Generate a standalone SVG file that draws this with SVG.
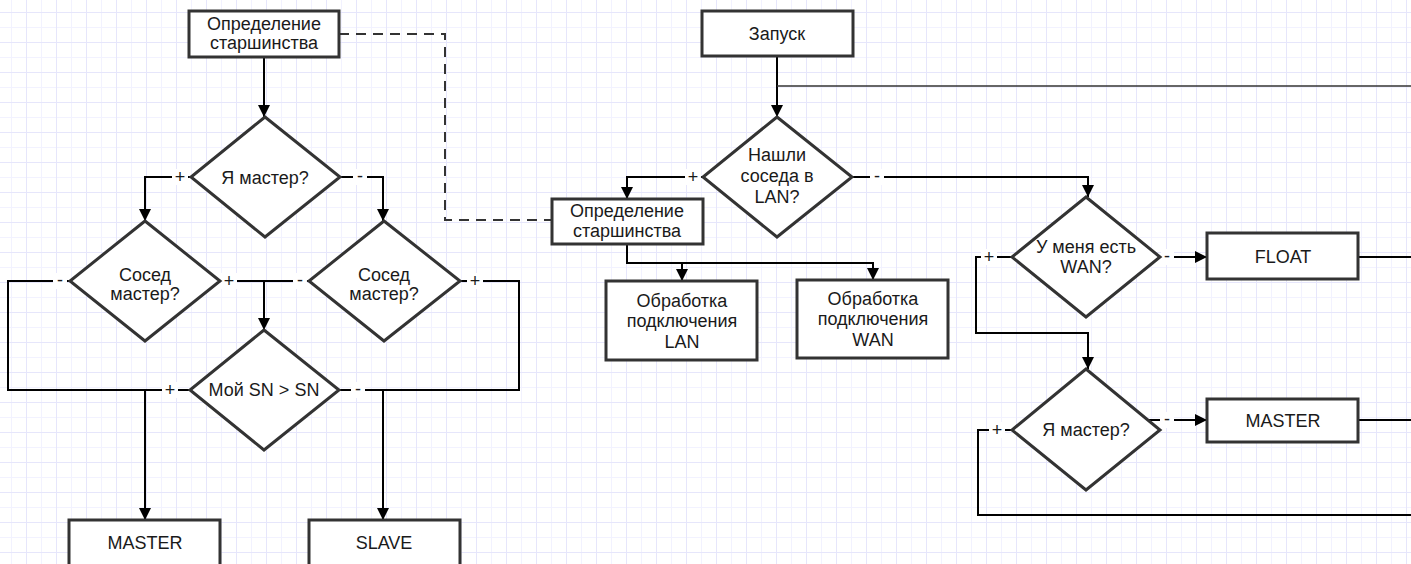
<svg xmlns="http://www.w3.org/2000/svg" width="1411" height="564" viewBox="0 0 1411 564">
<defs>
<pattern id="grid" x="26" y="12" width="30" height="30" patternUnits="userSpaceOnUse">
<rect x="0" y="0" width="30" height="30" fill="#ffffff"/>
<rect x="15" y="0" width="1" height="30" fill="#f2f2ff"/>
<rect x="0" y="15" width="30" height="1" fill="#f2f2ff"/>
<rect x="0" y="0" width="1" height="30" fill="#e6e6fb"/>
<rect x="0" y="0" width="30" height="1" fill="#e6e6fb"/>
</pattern>
<marker id="arr" viewBox="0 0 12 12" markerWidth="12" markerHeight="12" refX="12" refY="6" orient="auto" markerUnits="userSpaceOnUse">
<path d="M0,0 L12,6 L0,12 z" fill="#000"/>
</marker>
</defs>
<style>
.box{fill:#fff;stroke:#333;stroke-width:3}
.t{font-family:"Liberation Sans",Arial,sans-serif;font-size:18px;fill:#1a1a1a;text-anchor:middle}
.c{fill:none;stroke:#000;stroke-width:2}
.thin{fill:none;stroke:#333;stroke-width:1.6}
.dash{fill:none;stroke:#333;stroke-width:2;stroke-dasharray:10 7}
.lb{fill:#fff}
</style>
<rect x="0" y="0" width="1411" height="564" fill="url(#grid)"/>

<g id="connectors">
<path class="dash" d="M339,34 H445 V220 H552"/>
<path class="c" d="M264,57 V117" marker-end="url(#arr)"/>
<path class="c" d="M191,177 H145 V221" marker-end="url(#arr)"/>
<path class="c" d="M340,177 H383 V221" marker-end="url(#arr)"/>
<path class="c" d="M220,281 H309"/>
<path class="c" d="M264,281 V330" marker-end="url(#arr)"/>
<path class="c" d="M70,281 H8 V390 H190"/>
<path class="c" d="M145,390 V520" marker-end="url(#arr)"/>
<path class="c" d="M460,281 H519 V390 H339"/>
<path class="c" d="M383,390 V520" marker-end="url(#arr)"/>
<path class="c" d="M777,56 V117" marker-end="url(#arr)"/>
<path class="thin" d="M1411,86 H777"/>
<path class="c" d="M703,177 H627 V199" marker-end="url(#arr)"/>
<path class="c" d="M852,177 H1088 V197" marker-end="url(#arr)"/>
<path class="c" d="M627,244 V263 H873 V280" marker-end="url(#arr)"/>
<path class="c" d="M682,263 V281" marker-end="url(#arr)"/>
<path class="c" d="M1012,257 H976 V333 H1088 V369" marker-end="url(#arr)"/>
<path class="c" d="M1160,257 H1207" marker-end="url(#arr)"/>
<path class="c" d="M1358,257 H1411"/>
<path class="c" d="M1148,420 H1207" marker-end="url(#arr)"/>
<path class="c" d="M1358,420 H1411"/>
<path class="c" d="M1012,430 H978 V515 H1411"/>
<g id="edge-labels">
<rect class="lb" x="172" y="169" width="16" height="16"/><text class="t" x="180" y="183">+</text>
<rect class="lb" x="353" y="169" width="14" height="16"/><text class="t" x="360" y="182">-</text>
<rect class="lb" x="53" y="273" width="14" height="16"/><text class="t" x="60" y="286">-</text>
<rect class="lb" x="221" y="273" width="16" height="16"/><text class="t" x="229" y="287">+</text>
<rect class="lb" x="293" y="273" width="14" height="16"/><text class="t" x="300" y="286">-</text>
<rect class="lb" x="467" y="273" width="16" height="16"/><text class="t" x="475" y="287">+</text>
<rect class="lb" x="162" y="382" width="16" height="16"/><text class="t" x="170" y="396">+</text>
<rect class="lb" x="351" y="382" width="14" height="16"/><text class="t" x="358" y="395">-</text>
<rect class="lb" x="685" y="169" width="16" height="16"/><text class="t" x="693" y="183">+</text>
<rect class="lb" x="870" y="169" width="14" height="16"/><text class="t" x="877" y="182">-</text>
<rect class="lb" x="981" y="249" width="16" height="16"/><text class="t" x="989" y="263">+</text>
<rect class="lb" x="1161" y="249" width="13" height="16"/><text class="t" x="1167" y="262">-</text>
<rect class="lb" x="1160" y="412" width="14" height="16"/><text class="t" x="1167" y="425">-</text>
<rect class="lb" x="989" y="422" width="16" height="16"/><text class="t" x="997" y="436">+</text>
</g>
</g>

<g id="n-seniority-1">
<rect class="box" x="189" y="11" width="150" height="46"/>
<text class="t" x="264" y="30">Определение</text>
<text class="t" x="264" y="49">старшинства</text>
</g>
<g id="n-iammaster-1">
<polygon class="box" points="265,117 340,177 265,237 191,177"/>
<text class="t" x="265" y="184">Я мастер?</text>
</g>
<g id="n-neighbor-left">
<polygon class="box" points="145,221 220,281 145,341 70,281"/>
<text class="t" x="145" y="281">Сосед</text>
<text class="t" x="145" y="300">мастер?</text>
</g>
<g id="n-neighbor-right">
<polygon class="box" points="384,221 460,281 384,341 309,281"/>
<text class="t" x="384" y="281">Сосед</text>
<text class="t" x="384" y="300">мастер?</text>
</g>
<g id="n-sn">
<polygon class="box" points="264,330 339,390 264,450 190,390"/>
<text class="t" x="264" y="396">Мой SN &gt; SN</text>
</g>
<g id="n-master-1">
<rect class="box" x="69" y="520" width="151" height="60"/>
<text class="t" x="145" y="549">MASTER</text>
</g>
<g id="n-slave">
<rect class="box" x="309" y="520" width="151" height="60"/>
<text class="t" x="384" y="549">SLAVE</text>
</g>
<g id="n-start">
<rect class="box" x="702" y="11" width="151" height="45"/>
<text class="t" x="777" y="40">Запуск</text>
</g>
<g id="n-found-lan">
<polygon class="box" points="777,117 852,177 777,237 703,177"/>
<text class="t" x="777" y="161">Нашли</text>
<text class="t" x="777" y="182">соседа в</text>
<text class="t" x="777" y="203">LAN?</text>
</g>
<g id="n-seniority-2">
<rect class="box" x="552" y="199" width="151" height="45"/>
<text class="t" x="627" y="217">Определение</text>
<text class="t" x="627" y="237">старшинства</text>
</g>
<g id="n-lan">
<rect class="box" x="606" y="281" width="151" height="79"/>
<text class="t" x="682" y="307">Обработка</text>
<text class="t" x="682" y="327">подключения</text>
<text class="t" x="682" y="348">LAN</text>
</g>
<g id="n-wan">
<rect class="box" x="797" y="280" width="151" height="78"/>
<text class="t" x="873" y="305">Обработка</text>
<text class="t" x="873" y="325">подключения</text>
<text class="t" x="873" y="346">WAN</text>
</g>
<g id="n-have-wan">
<polygon class="box" points="1086,197 1160,257 1086,317 1012,257"/>
<text class="t" x="1086" y="253">У меня есть</text>
<text class="t" x="1086" y="273">WAN?</text>
</g>
<g id="n-float">
<rect class="box" x="1207" y="233" width="151" height="46"/>
<text class="t" x="1283" y="263">FLOAT</text>
</g>
<g id="n-iammaster-2">
<polygon class="box" points="1086,369 1160,430 1086,490 1012,430"/>
<text class="t" x="1086" y="436">Я мастер?</text>
</g>
<g id="n-master-2">
<rect class="box" x="1207" y="399" width="151" height="43"/>
<text class="t" x="1283" y="427">MASTER</text>
</g>
</svg>
